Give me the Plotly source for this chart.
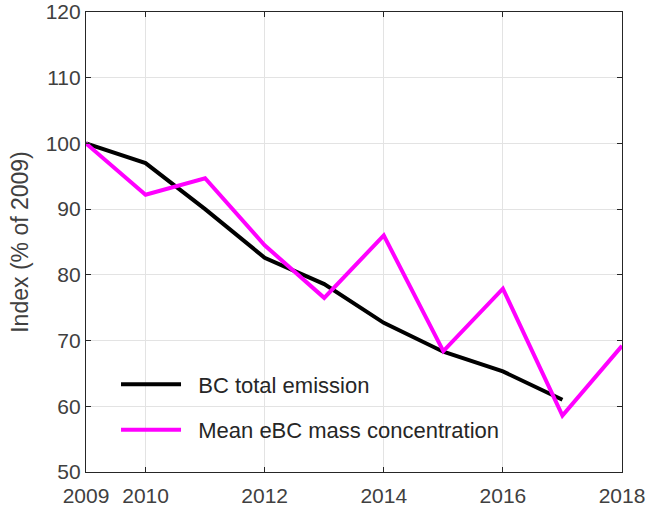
import plotly.graph_objects as go

years_emis = [2009, 2010, 2011, 2012, 2013, 2014, 2015, 2016, 2017]
bc_emission = [100, 97.0, 90.0, 82.6, 78.6, 72.7, 68.3, 65.3, 61.0]

years_conc = [2009, 2010, 2011, 2012, 2013, 2014, 2015, 2016, 2017, 2018]
ebc_conc = [100, 92.2, 94.7, 84.5, 76.5, 86.0, 68.4, 77.9, 58.6, 69.2]

xtick_vals = [2009, 2010, 2012, 2014, 2016, 2018]
ytick_vals = [50, 60, 70, 80, 90, 100, 110, 120]

FONT = "Liberation Sans, Helvetica, Arial, sans-serif"
AX = "#262626"
TXT = "#404040"
PAD = "\u00a0\u00a0"

fig = go.Figure()
fig.add_trace(go.Scatter(x=years_emis, y=bc_emission, mode="lines",
                         name=PAD + "BC total emission", legendgroup="a",
                         line=dict(color="black", width=4)))
fig.add_trace(go.Scatter(x=years_conc, y=ebc_conc, mode="lines",
                         name=PAD + "Mean eBC mass concentration", legendgroup="b",
                         line=dict(color="#ff00ff", width=4)))

axis_common = dict(showline=True, linecolor=AX, linewidth=1.2, mirror="ticks",
                   ticks="inside", ticklen=5, tickcolor=AX,
                   showgrid=True, gridcolor="#e3e3e3", gridwidth=1,
                   zeroline=False, automargin=False,
                   ticklabeloverflow="allow",
                   tickfont=dict(family=FONT, size=21, color=TXT))

fig.update_xaxes(range=[2009, 2018], tickvals=xtick_vals,
                 ticktext=[str(v) for v in xtick_vals],
                 ticklabelstandoff=5, **axis_common)
fig.update_yaxes(range=[50, 120], tickvals=ytick_vals,
                 title=dict(text="Index (% of 2009)",
                            font=dict(family=FONT, size=23, color=TXT),
                            standoff=10),
                 **axis_common)

fig.update_layout(
    width=653, height=508,
    margin=dict(l=86, r=31, t=12, b=36),
    plot_bgcolor="white", paper_bgcolor="white",
    font=dict(family=FONT, color=TXT),
    legend=dict(x=0.056, y=0.236, xanchor="left", yanchor="top",
                bgcolor="rgba(0,0,0,0)", borderwidth=0,
                tracegroupgap=14, itemwidth=60,
                font=dict(family=FONT, size=22, color="#262626")),
)

fig.write_html("out.html",
               config={"displayModeBar": False},
               post_script="document.body.style.margin='0';document.body.style.overflow='hidden';")
